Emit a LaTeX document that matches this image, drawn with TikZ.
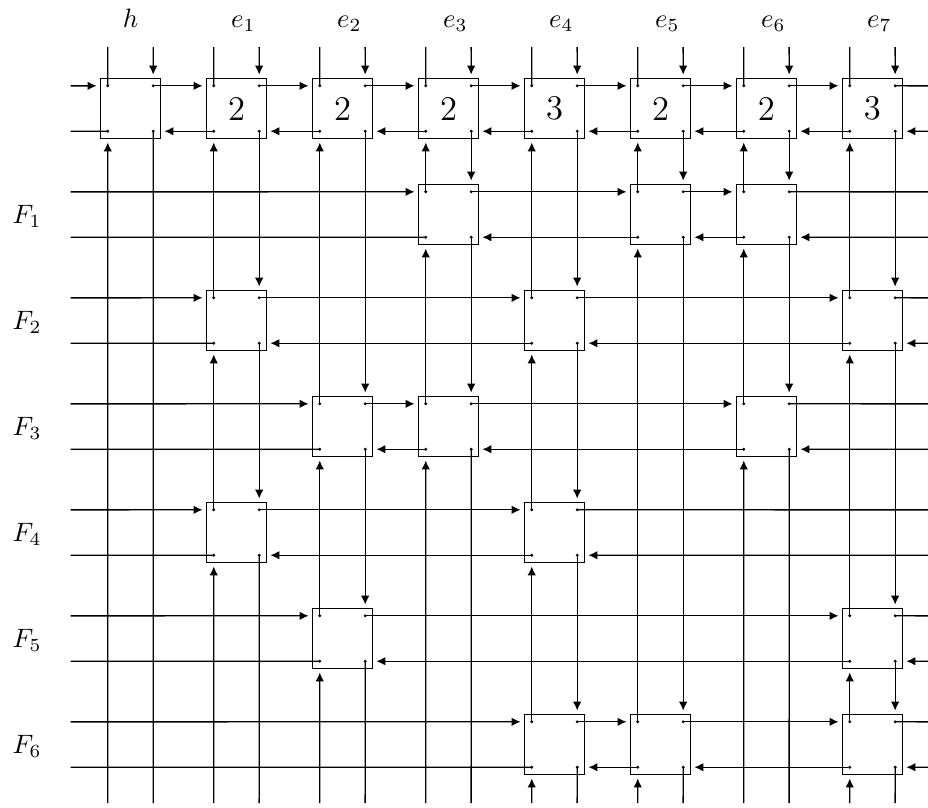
\documentclass[tikz,border=0pt]{standalone}
\usepackage{tikz}
\usetikzlibrary{arrows.meta}

\begin{document}
\begin{tikzpicture}[
  x=14mm,
  y=14mm,
  line width=0.5pt,
  cell/.style={
    draw,rectangle,minimum size=8mm,inner sep=0pt,
    font=\fontsize{13}{15}\selectfont
  },
  flow/.style={
    -{Latex[length=3.4pt,width=3.2pt]},shorten >=1.1pt
  },
  dot/.style={fill=black}
]
  \useasboundingbox (-1.231,-6.590) rectangle (7.524,1.024);

  % labels of the columns and rows
  \node[anchor=base] (lab-0) at (0,0.76) {$h$};
  \foreach \c in {1,...,7}
    \node[anchor=base] (lab-\c) at (\c+0.065,0.76) {$e_{\c}$};
  \foreach \r in {1,...,6}
    \node[anchor=base] (F-\r) at (-0.976,-\r-0.085) {$F_{\r}$};

  % boxes and their four ports
  \foreach \r/\c/\n in {0/0/{},0/1/2,0/2/2,0/3/2,0/4/3,0/5/2,0/6/2,0/7/3,
      1/3/{},1/5/{},1/6/{},2/1/{},2/4/{},2/7/{},3/2/{},3/3/{},3/6/{},
      4/1/{},4/4/{},5/2/{},5/7/{},6/4/{},6/5/{},6/7/{}} {
    \node[cell] (b-\r-\c) at (\c,-\r) {\n};
    \coordinate (b-\r-\c-nw) at ([shift={(-3mm,3mm)}]b-\r-\c.center);
    \coordinate (b-\r-\c-ne) at ([shift={(3mm,3mm)}]b-\r-\c.center);
    \coordinate (b-\r-\c-sw) at ([shift={(-3mm,-3mm)}]b-\r-\c.center);
    \coordinate (b-\r-\c-se) at ([shift={(3mm,-3mm)}]b-\r-\c.center);
  }

  % rows: top line to the right, bottom line to the left
  \foreach \r/\cs in {0/{0,1,2,3,4,5,6,7},1/{3,5,6},2/{1,4,7},3/{2,3,6},
      4/{1,4},5/{2,7},6/{4,5,7}} {
    \coordinate (west-\r-a) at (-0.564,-\r+0.214);
    \coordinate (west-\r-b) at (-0.564,-\r-0.214);
    \coordinate (east-\r-a) at (7.524,-\r+0.214);
    \coordinate (east-\r-b) at (7.524,-\r-0.214);
    \coordinate (last) at (west-\r-a);
    \foreach \c [remember=\c as \p (initially -1)] in \cs {
      \draw[flow] (last) -- (b-\r-\c-nw -| b-\r-\c.west);
      \coordinate (last) at (b-\r-\c-ne);
      \coordinate (lastin) at (b-\r-\c-se -| b-\r-\c.east);
      \ifnum\p<0
        \draw (b-\r-\c-sw) -- (west-\r-b);
      \else
        \draw[flow] (b-\r-\c-sw) -- (b-\r-\p-se -| b-\r-\p.east);
      \fi
    }
    \draw (last) -- (east-\r-a);
    \draw[flow] (east-\r-b) -- (lastin);
  }

  % columns: right line downwards, left line upwards
  \foreach \c/\rs in {0/{0},1/{0,2,4},2/{0,3,5},3/{0,1,3},4/{0,2,4,6},
      5/{0,1,6},6/{0,1,3},7/{0,2,5,6}} {
    \coordinate (north-\c-a) at (\c-0.214,0.58);
    \coordinate (north-\c-b) at (\c+0.214,0.58);
    \coordinate (south-\c-a) at (\c-0.214,-6.552);
    \coordinate (south-\c-b) at (\c+0.214,-6.552);
    \coordinate (last) at (north-\c-b);
    \foreach \r [remember=\r as \p (initially -1)] in \rs {
      \draw[flow] (last) -- (b-\r-\c-ne |- b-\r-\c.north);
      \coordinate (last) at (b-\r-\c-se);
      \coordinate (lastin) at (b-\r-\c-sw |- b-\r-\c.south);
      \ifnum\p<0
        \draw (b-\r-\c-nw) -- (north-\c-a);
      \else
        \draw[flow] (b-\r-\c-nw) -- (b-\p-\c-sw |- b-\p-\c.south);
      \fi
    }
    \draw (last) -- (south-\c-b);
    \draw[flow] (south-\c-a) -- (lastin);
  }

  % ports on top
  \foreach \r/\c in {0/0,0/1,0/2,0/3,0/4,0/5,0/6,0/7,1/3,1/5,1/6,2/1,2/4,
      2/7,3/2,3/3,3/6,4/1,4/4,5/2,5/7,6/4,6/5,6/7}
    \foreach \k in {nw,ne,sw,se}
      \fill[dot] (b-\r-\c-\k) circle (0.6pt);
\end{tikzpicture}
\end{document}
